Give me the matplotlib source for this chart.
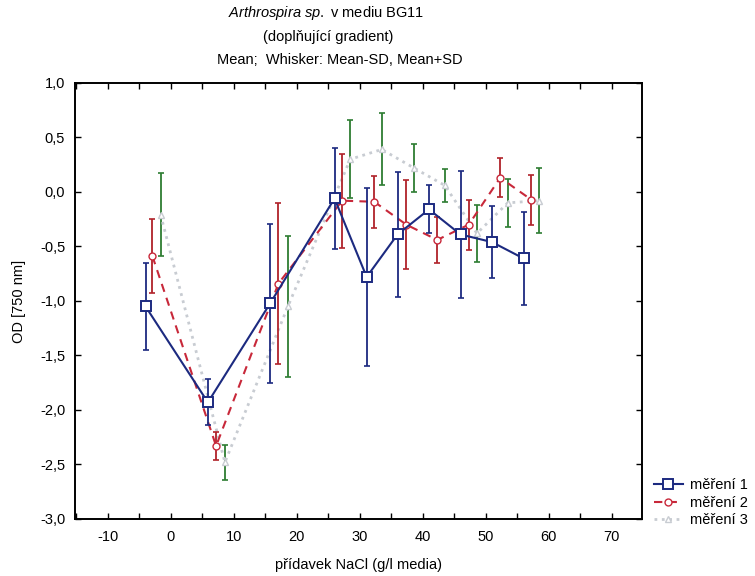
import matplotlib
matplotlib.use("Agg")
import matplotlib.pyplot as plt
from matplotlib.ticker import MultipleLocator, FuncFormatter

plt.rcParams["font.family"] = ["Liberation Sans", "DejaVu Sans"]
plt.rcParams["mathtext.fontset"] = "custom"
plt.rcParams["mathtext.it"] = "Liberation Sans:italic"
plt.rcParams["mathtext.rm"] = "Liberation Sans"

# NaCl addition (g/l) as plotted for each measurement (series are offset)
x_m1 = [-4.0, 5.9, 15.8, 26.0, 31.1, 36.0, 41.0, 46.0, 51.0, 56.0]
x_m2 = [-2.9, 7.2, 17.1, 27.2, 32.3, 37.4, 42.3, 47.3, 52.3, 57.2]
x_m3 = [-1.6, 8.6, 18.6, 28.5, 33.5, 38.6, 43.5, 48.6, 53.5, 58.5]

# mean OD and SD
mean_m1 = [-1.05, -1.93, -1.02, -0.06, -0.78, -0.39, -0.16, -0.39, -0.46, -0.61]
sd_m1 = [0.40, 0.21, 0.73, 0.46, 0.82, 0.57, 0.22, 0.58, 0.33, 0.43]

mean_m2 = [-0.59, -2.33, -0.84, -0.08, -0.09, -0.30, -0.44, -0.30, 0.13, -0.07]
sd_m2 = [0.34, 0.13, 0.74, 0.43, 0.24, 0.41, 0.21, 0.23, 0.18, 0.23]

mean_m3 = [-0.21, -2.48, -1.05, 0.30, 0.39, 0.22, 0.06, -0.38, -0.10, -0.08]
sd_m3 = [0.38, 0.16, 0.65, 0.36, 0.33, 0.22, 0.15, 0.26, 0.22, 0.30]

labels = ["měření 1", "měření 2", "měření 3"]

fig = plt.figure(figsize=(7.55, 5.76), dpi=100)
ax = fig.add_axes([0.0993, 0.099, 0.751, 0.757])

# measurement 3: light gray dotted line, green whiskers
ax.errorbar(x_m3, mean_m3, yerr=sd_m3, fmt="none", ecolor="#2e7d32",
            elinewidth=1.3, capsize=2, capthick=1.2, zorder=2)
l3, = ax.plot(x_m3, mean_m3, linestyle=":", color="#c8ccd2", linewidth=2,
              marker="^", markersize=5, markerfacecolor="white",
              markeredgecolor="#c8ccd2", zorder=3)

# measurement 2: red dashed line, circles
ax.errorbar(x_m2, mean_m2, yerr=sd_m2, fmt="none", ecolor="#b0222a",
            elinewidth=1.3, capsize=2, capthick=1.2, zorder=4)
l2, = ax.plot(x_m2, mean_m2, linestyle=(0, (4, 3)), color="#c8283a",
              linewidth=1.5, marker="o", markersize=5, markerfacecolor="white",
              markeredgecolor="#c8283a", zorder=5)

# measurement 1: navy solid line, squares
ax.errorbar(x_m1, mean_m1, yerr=sd_m1, fmt="none", ecolor="#1c2a80",
            elinewidth=1.3, capsize=2, capthick=1.2, zorder=6)
l1, = ax.plot(x_m1, mean_m1, linestyle="-", color="#1c2a80", linewidth=1.5,
              marker="s", markersize=7, markerfacecolor="white",
              markeredgecolor="#1c2a80", markeredgewidth=1.4, zorder=7)

ax.set_xlim(-15.2, 74.8)
ax.set_ylim(-3.0, 1.0)
ax.xaxis.set_major_locator(MultipleLocator(10))
ax.xaxis.set_minor_locator(MultipleLocator(5))
ax.yaxis.set_major_locator(MultipleLocator(0.5))
comma = FuncFormatter(lambda v, p: f"{v:.1f}".replace(".", ","))
ax.yaxis.set_major_formatter(comma)
ax.xaxis.set_major_formatter(FuncFormatter(lambda v, p: f"{v:.0f}"))
ax.tick_params(which="both", direction="in", top=True, right=True,
               length=4, width=1, labelsize=10.5)
ax.tick_params(axis="x", pad=8)
ax.tick_params(axis="y", pad=7)
for s in ax.spines.values():
    s.set_linewidth(1.4)

ax.set_xlabel("přídavek NaCl (g/l media)", fontsize=10.5, labelpad=10)
ax.set_ylabel("OD [750 nm]", fontsize=10.5, labelpad=10)

fig.text(0.432, 0.978, r"$\it{Arthrospira\ sp.}$ v mediu BG11", ha="center",
         va="center", fontsize=10.5)
fig.text(0.435, 0.936, "(doplňující gradient)", ha="center", va="center",
         fontsize=10.5)
fig.text(0.450, 0.896, "Mean;  Whisker: Mean-SD, Mean+SD", ha="center",
         va="center", fontsize=10.5)

fig.legend([l1, l2, l3], labels, loc="upper left",
           bbox_to_anchor=(0.858, 0.18), frameon=False, fontsize=10.5,
           handlelength=2.0, handletextpad=0.5, labelspacing=0.25,
           borderaxespad=0)

fig.savefig("out.png", dpi=100)
